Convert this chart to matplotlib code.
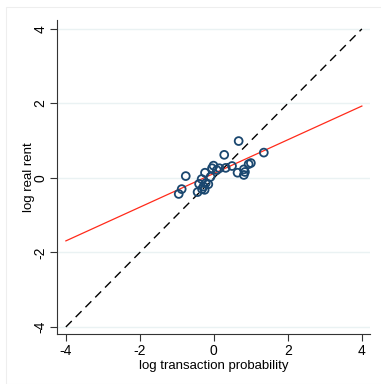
import matplotlib
matplotlib.use("Agg")
import matplotlib.pyplot as plt
from matplotlib.patches import Rectangle
import numpy as np

plt.rcParams['font.family'] = ['Liberation Sans', 'DejaVu Sans']

# scatter: log transaction probability vs log real rent
log_prob = [0.67, 0.28, 1.35, -0.01, -0.05, -0.24, -0.76, 0.15, 0.32, 0.49,
            0.64, 0.81, 0.94, 1.00, 0.81, -0.33, -0.40, -0.44, -0.28, -0.32,
            -0.15, -0.09, -0.87, -0.95, -0.22, -0.25, 0.84, 0.08]
log_rent = [0.99, 0.62, 0.68, 0.33, 0.26, 0.14, 0.05, 0.26, 0.27, 0.32,
            0.14, 0.23, 0.37, 0.40, 0.08, -0.03, -0.16, -0.38, -0.23, -0.30,
            -0.17, 0.03, -0.30, -0.43, -0.14, -0.32, 0.16, 0.21]

# fitted line (red) and 45 degree line (dashed)
fit_x = [-4, 4]
fit_y = [-1.69, 1.93]
diag = [-4, 4]
ticks = [-4, -2, 0, 2, 4]

navy = '#1a476f'
grid_c = '#eaf2f3'

fig = plt.figure(figsize=(3.81, 3.84), dpi=100)
fig.patches.append(Rectangle((6 / 381, 0), 1, 1 - 7 / 384, transform=fig.transFigure,
                             fill=False, edgecolor='#eeeeee', linewidth=0.8))
ax = fig.add_axes([57 / 381, 50 / 384, 313 / 381, 314 / 384])

ax.plot(diag, diag, color='black', linestyle=(0, (6, 4)), linewidth=1.0, zorder=2)
ax.plot(fit_x, fit_y, color='#ff2a1a', linewidth=0.9, zorder=3)
ax.scatter(log_prob, log_rent, s=32, facecolors='none', edgecolors=navy,
           linewidths=1.3, zorder=4)

ax.set_xlim(-4.24, 4.22)
ax.set_ylim(-4.19, 4.24)
ax.set_xticks(ticks)
ax.set_yticks(ticks)
ax.set_xticklabels([str(t) for t in ticks], fontsize=10)
ax.set_yticklabels([str(t) for t in ticks], fontsize=10, rotation=90, va='center')
ax.grid(axis='y', color=grid_c, linewidth=1.0)
ax.set_axisbelow(True)
for s in ['top', 'right']:
    ax.spines[s].set_visible(False)
for s in ['left', 'bottom']:
    ax.spines[s].set_color('#333333')
    ax.spines[s].set_linewidth(0.8)
ax.tick_params(direction='out', length=5, width=0.8, color='#333333', pad=2)
ax.set_xlabel('log transaction probability', fontsize=9.5, labelpad=2)
ax.set_ylabel('log real rent', fontsize=9.5, labelpad=-1)

fig.savefig('out.png', dpi=100)
